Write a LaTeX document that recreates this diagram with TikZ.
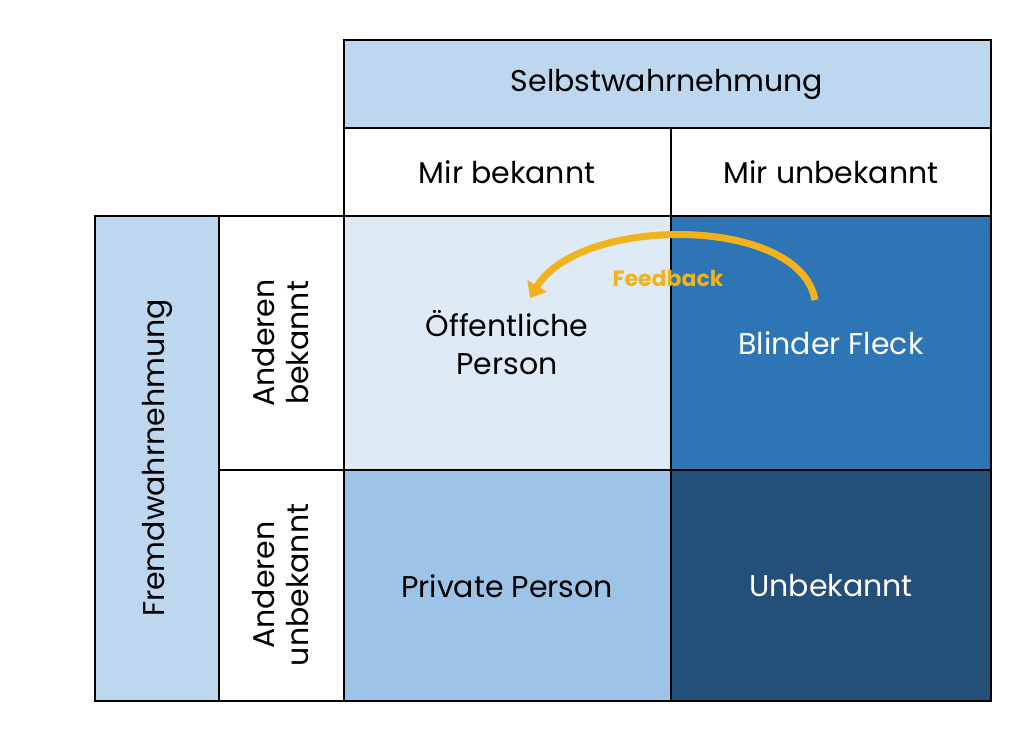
\documentclass[tikz,border=0pt]{standalone}
\usepackage{fontspec}
\setmainfont{Poppins}
\usetikzlibrary{arrows.meta}
\definecolor{hdr}{HTML}{BDD7EE}
\definecolor{pub}{HTML}{DEEBF7}
\definecolor{blind}{HTML}{2E75B6}
\definecolor{priv}{HTML}{9DC3E6}
\definecolor{unk}{HTML}{234F78}
\definecolor{gold}{HTML}{F2B21B}
\begin{document}
\begin{tikzpicture}[x=1pt,y=-1pt,
  cell/.style={draw=black,line width=1.3pt},
  txt/.style={font=\fontsize{30}{38}\selectfont,align=center},
  wtxt/.style={txt,text=white}]
\useasboundingbox (0,0) rectangle (1024,745);
\filldraw[cell,fill=hdr] (344,40) rectangle (991,128);
\filldraw[cell,fill=white] (344,128) rectangle (671,216);
\filldraw[cell,fill=white] (671,128) rectangle (991,216);
\filldraw[cell,fill=hdr] (95,216) rectangle (219,701);
\filldraw[cell,fill=white] (219,216) rectangle (344,470);
\filldraw[cell,fill=white] (219,470) rectangle (344,701);
\filldraw[cell,fill=pub] (344,216) rectangle (671,470);
\filldraw[cell,fill=blind] (671,216) rectangle (991,470);
\filldraw[cell,fill=priv] (344,470) rectangle (671,701);
\filldraw[cell,fill=unk] (671,470) rectangle (991,701);
\node[txt] (s) at (667,84) {Selbstwahrnehmung};
\node[txt] (mb) at (507,172) {Mir bekannt};
\node[txt] (mu) at (831,172) {Mir unbekannt};
\node[txt,rotate=90] (f) at (157,458) {Fremdwahrnehmung};
\node[txt,rotate=90,text width=200pt] (ab) at (281,343) {Anderen\\[-4pt]bekannt};
\node[txt,rotate=90,text width=200pt] (au) at (281,585) {Anderen\\[-4pt]unbekannt};
\node[txt] (op) at (507,343) {Öffentliche\\Person};
\node[wtxt] (bf) at (831,343) {Blinder Fleck};
\node[txt] (pp) at (507,586) {Private Person};
\node[wtxt] (u) at (831,586) {Unbekannt};
\coordinate (a1) at (815,300);
\coordinate (a2) at (530,298);
\draw[gold,line width=7pt,-{Triangle[length=14pt,width=22pt]}] (a1) .. controls (800,215) and (580,215) .. (a2);
\node[font=\bfseries\fontsize{22}{26}\selectfont,text=gold] (fb) at (668,278) {Feedback};
\end{tikzpicture}
\end{document}
